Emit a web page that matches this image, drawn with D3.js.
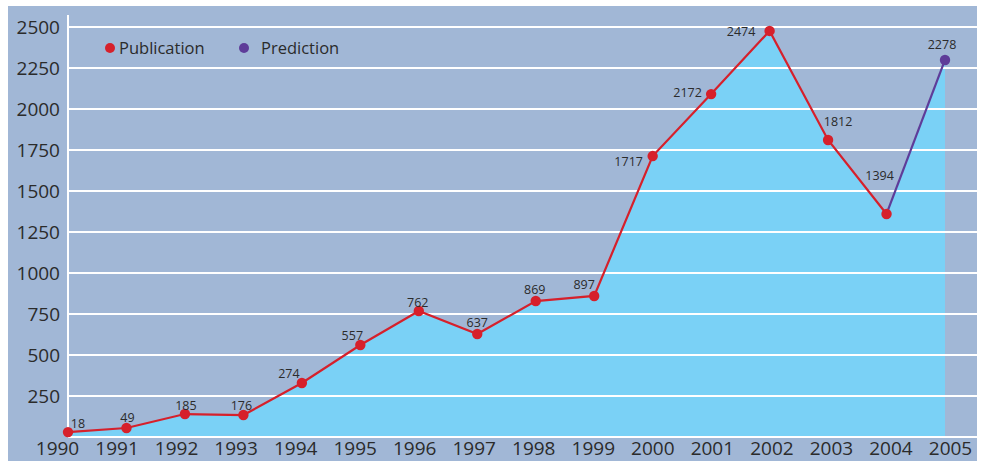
<!DOCTYPE html>
<html>
<head>
<meta charset="utf-8">
<script src="https://cdn.jsdelivr.net/npm/d3@7"></script>
<style>
  body { margin: 0; background: #fff; }
  svg text { font-family: "Open Sans", sans-serif; fill: #2b2b2b; }
</style>
</head>
<body>
<div class="container"></div>
<script>
// data
var years = [1990, 1991, 1992, 1993, 1994, 1995, 1996, 1997, 1998, 1999, 2000, 2001, 2002, 2003, 2004, 2005];
var pubValues = [30, 55, 140, 134, 329, 561, 768, 628, 829, 860, 1713, 2091, 2476, 1811, 1360];
var predValue = 2299;
var pointLabels = ["18", "49", "185", "176", "274", "557", "762", "637", "869", "897", "1717", "2172", "2474", "1812", "1394", "2278"];
var yTicks = [250, 500, 750, 1000, 1250, 1500, 1750, 2000, 2250, 2500];
var legendItems = ["Publication", "Prediction"];

var width = 983, height = 461;
var panel = {x: 8, y: 6, w: 969, h: 455};

var svg = d3.select(".container").append("svg")
    .attr("width", width)
    .attr("height", height);

// scales
var x = d3.scaleLinear().domain([1990, 2005]).range([68, 945]);
var xLab = d3.scaleLinear().domain([1990, 2005]).range([57, 950]);
var y = d3.scaleLinear().domain([0, 2500]).range([437, 27]);

// background panel
svg.append("rect")
    .attr("x", panel.x).attr("y", panel.y)
    .attr("width", panel.w).attr("height", panel.h)
    .attr("fill", "#a1b7d6");

// all points, publication + prediction
var allPts = pubValues.map(function(v, i) { return {year: years[i], v: v}; });
allPts.push({year: 2005, v: predValue});

// area under the line
var area = d3.area()
    .x(function(d) { return x(d.year); })
    .y0(y(0))
    .y1(function(d) { return y(d.v); });

svg.append("path")
    .datum(allPts)
    .attr("d", area)
    .attr("fill", "#7ad1f6");

// gridlines
svg.selectAll(".grid")
    .data([0].concat(yTicks))
  .enter().append("line")
    .attr("class", "grid")
    .attr("x1", 68).attr("x2", panel.x + panel.w)
    .attr("y1", function(d) { return y(d); })
    .attr("y2", function(d) { return y(d); })
    .attr("stroke", "#fff")
    .attr("stroke-width", 2);

// y axis line
svg.append("line")
    .attr("x1", 68).attr("x2", 68)
    .attr("y1", 15).attr("y2", y(0))
    .attr("stroke", "#fff")
    .attr("stroke-width", 2);

// y tick labels
var yAxis = svg.append("g")
    .attr("transform", "translate(60,0)")
    .call(d3.axisLeft(y).tickValues(yTicks).tickSize(0).tickPadding(0).tickFormat(d3.format("d")));
yAxis.select(".domain").remove();
yAxis.selectAll("text")
    .style("font-size", "19px")
    .attr("fill", "#2b2b2b");

// x tick labels
var xAxis = svg.append("g")
    .attr("transform", "translate(0,441)")
    .call(d3.axisBottom(xLab).tickValues(years).tickSize(0).tickPadding(0).tickFormat(d3.format("d")));
xAxis.select(".domain").remove();
xAxis.selectAll("text")
    .style("font-size", "19px")
    .attr("fill", "#2b2b2b");

// lines
var line = d3.line()
    .x(function(d) { return x(d.year); })
    .y(function(d) { return y(d.v); });

svg.append("path")
    .datum(allPts.slice(0, 15))
    .attr("d", line)
    .attr("fill", "none")
    .attr("stroke", "#d6202b")
    .attr("stroke-width", 2.2);

svg.append("path")
    .datum(allPts.slice(14))
    .attr("d", line)
    .attr("fill", "none")
    .attr("stroke", "#5e3c99")
    .attr("stroke-width", 2.2);

// dots
svg.selectAll(".dot")
    .data(allPts)
  .enter().append("circle")
    .attr("class", "dot")
    .attr("cx", function(d) { return x(d.year); })
    .attr("cy", function(d) { return y(d.v); })
    .attr("r", 5.2)
    .attr("fill", function(d, i) { return i < 15 ? "#d6202b" : "#5e3c99"; });

// value labels, nudged where the original put them
var labelNudge = [[10, -4.5], [1, -5.5], [1, -4.5], [-2, -5.5], [-13, -5.5], [-8, -4.5], [-1, -4.5], [0, -7.5],
                  [-1, -7.5], [-10, -6.5], [-24, 9.5], [-23.5, 2.5], [-28.5, 5.5], [10, -13.5], [-7, -33.5], [-3, -10.5]];
svg.selectAll(".vlabel")
    .data(allPts)
  .enter().append("text")
    .attr("class", "vlabel")
    .attr("x", function(d, i) { return x(d.year) + labelNudge[i][0]; })
    .attr("y", function(d, i) { return y(d.v) + labelNudge[i][1]; })
    .attr("text-anchor", "middle")
    .style("font-size", "12.5px")
    .attr("fill", "#333")
    .text(function(d, i) { return pointLabels[i]; });

// legend
var legendColors = ["#d6202b", "#5e3c99"];
var legendX = [[110, 119], [244, 261]];
var lg = svg.selectAll(".legend")
    .data(legendItems)
  .enter().append("g")
    .attr("class", "legend");
lg.append("circle")
    .attr("cx", function(d, i) { return legendX[i][0]; })
    .attr("cy", 48)
    .attr("r", 5)
    .attr("fill", function(d, i) { return legendColors[i]; });
lg.append("text")
    .attr("x", function(d, i) { return legendX[i][1]; })
    .attr("y", 54)
    .style("font-size", "16.5px")
    .attr("fill", "#2b2b2b")
    .text(function(d) { return d; });
</script>
</body>
</html>
